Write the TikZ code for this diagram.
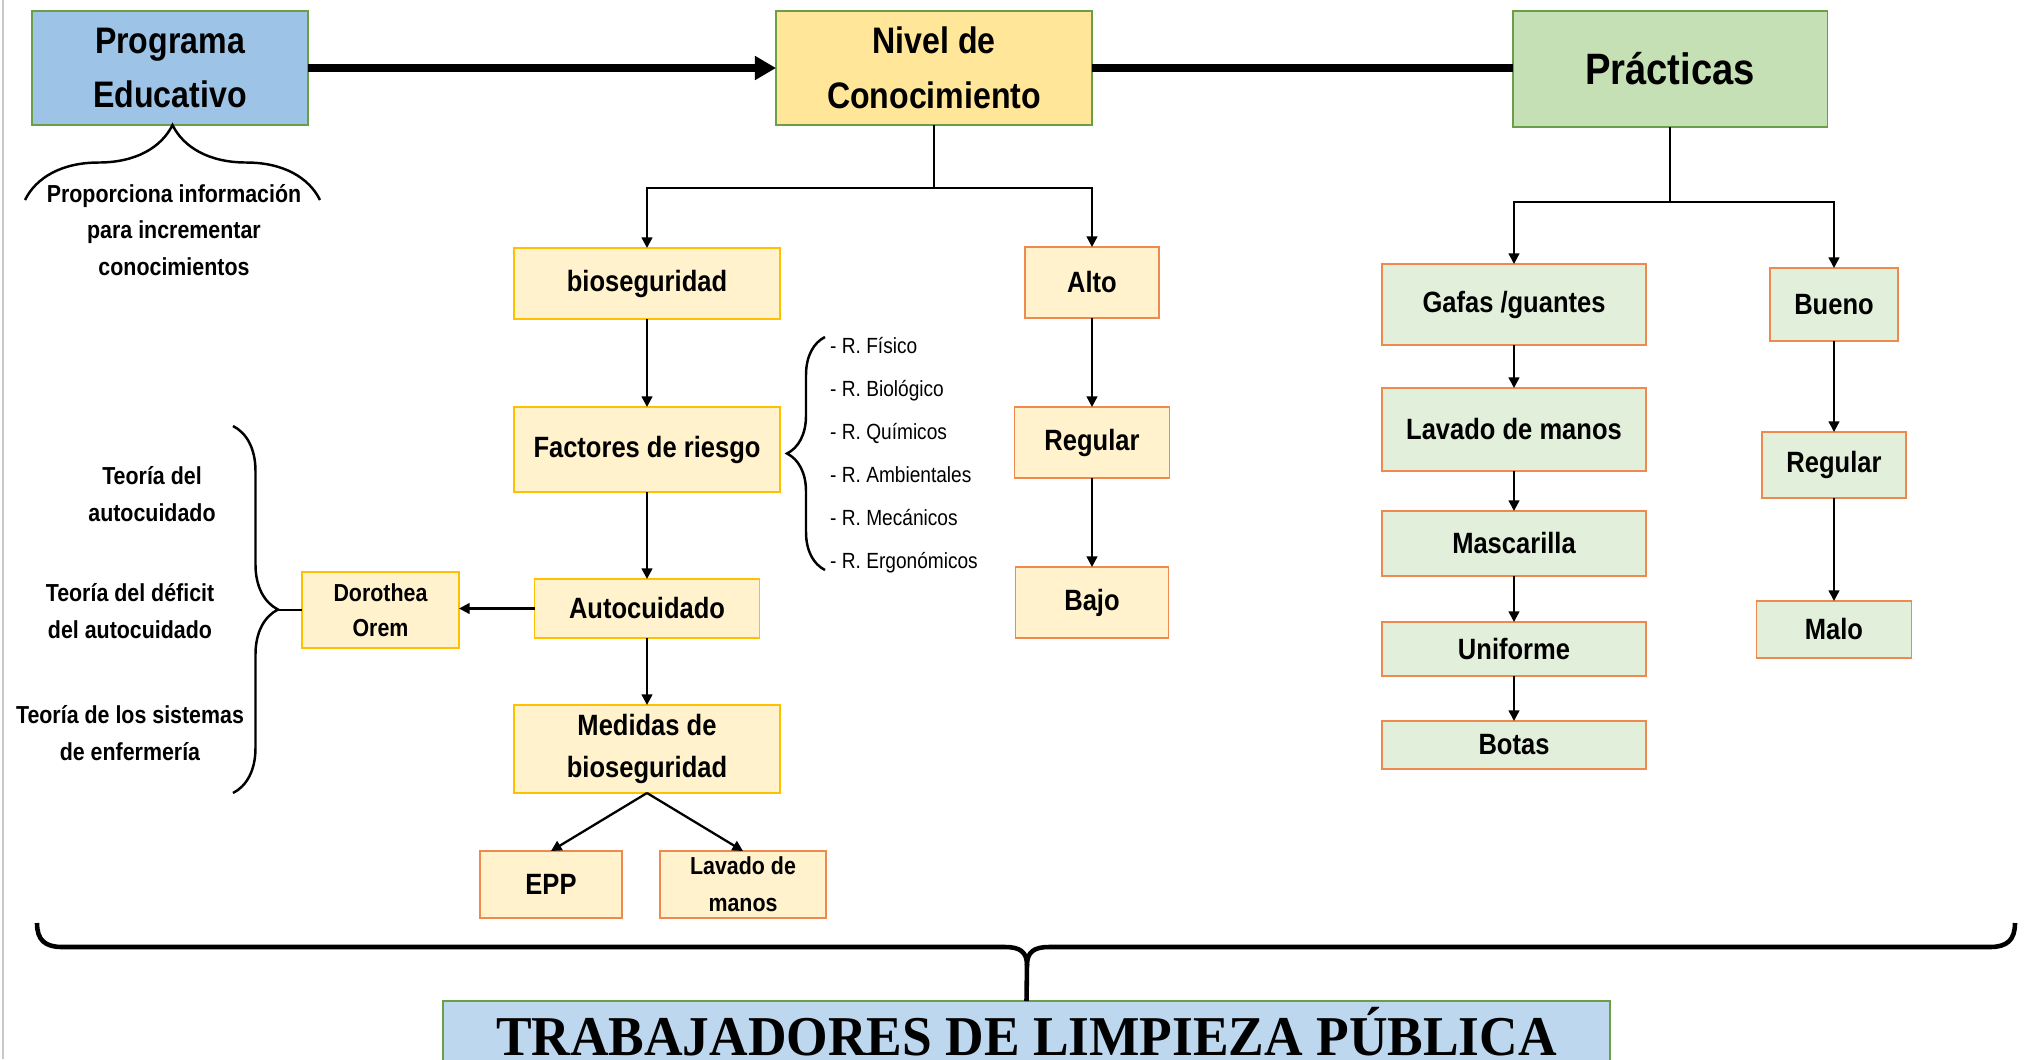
\documentclass[tikz,border=0pt]{standalone}
\usepackage{fontspec}
\setmainfont{Liberation Sans}[FakeStretch=0.87]
\newfontfamily\titlefont{Liberation Serif}[FakeStretch=0.95]
\usetikzlibrary{positioning, arrows.meta, calc, decorations.pathreplacing}
\definecolor{progblue}{HTML}{9DC3E6}
\definecolor{nivelgold}{HTML}{FFE699}
\definecolor{practgreen}{HTML}{C5E0B4}
\definecolor{trabblue}{HTML}{BDD7EE}
\definecolor{boxgreen}{HTML}{6A9F45}
\definecolor{lightyellow}{HTML}{FFF2CC}
\definecolor{lightgreen}{HTML}{E2EFDA}
\definecolor{gold}{HTML}{FFC000}
\definecolor{boxorange}{HTML}{EE8A4E}
\definecolor{framegray}{HTML}{C8C8C8}

\begin{document}
\begin{tikzpicture}[
  x=0.02cm, y=-0.02cm,
  box/.style={draw, line width=1.1pt, inner sep=0pt, outer sep=0pt, align=center},
  topbox/.style={box, draw=boxgreen, font=\bfseries\fontsize{21}{31}\selectfont},
  ybox/.style={box, draw=gold, fill=lightyellow, font=\bfseries\fontsize{16.7}{24}\selectfont},
  obox/.style={box, draw=boxorange, fill=lightyellow, font=\bfseries\fontsize{16.7}{24}\selectfont},
  gbox/.style={box, draw=boxorange, fill=lightgreen, font=\bfseries\fontsize{16.7}{24}\selectfont},
  small/.style={font=\bfseries\fontsize{14}{21}\selectfont, align=center},
  arrow/.style={-{Triangle[length=6pt,width=6pt]}, line width=1.3pt},
  bigline/.style={line width=4pt},
  bigarrow/.style={bigline, -{Triangle[length=12pt,width=13pt]}},
  curly/.style={decorate, decoration={brace, amplitude=#1}, line width=1.4pt},
]
  \useasboundingbox (0,0) rectangle (2026,1059);
  \draw[framegray, line width=1pt] (3,0) -- (3,1059);

  % Top row
  \node[topbox, fill=progblue, minimum width=5.52cm, minimum height=2.28cm] (prog) at (170,68) {Programa\\Educativo};
  \node[topbox, fill=nivelgold, minimum width=6.32cm, minimum height=2.28cm] (nivel) at (934,68) {Nivel de\\Conocimiento};
  \node[topbox, fill=practgreen, minimum width=6.30cm, minimum height=2.32cm,
        font=\bfseries\fontsize{25}{31}\selectfont] (pract) at (1670,69) {Prácticas};
  \draw[bigarrow] (prog) -- (nivel);
  \draw[bigline] (nivel.east) -- (nivel.east -| pract.west);

  % Programa note
  \draw[curly=1.5cm] (25,200) -- (320,200);
  \node[small] (nota) at (174,230) {Proporciona información\\para incrementar\\conocimientos};

  % Conocimiento branch
  \node[ybox, minimum width=5.32cm, minimum height=1.42cm] (bio) at (647,283.5) {bioseguridad};
  \node[ybox, minimum width=5.32cm, minimum height=1.70cm] (fact) at (647,449.5) {Factores de riesgo};
  \node[ybox, minimum width=4.50cm, minimum height=1.18cm] (auto) at (647,608.5) {Autocuidado};
  \node[ybox, minimum width=5.32cm, minimum height=1.76cm] (med) at (647,749) {Medidas de\\bioseguridad};
  \node[obox, minimum width=2.84cm, minimum height=1.34cm] (epp) at (551,884.5) {EPP};
  \node[obox, minimum width=3.32cm, minimum height=1.34cm,
        font=\bfseries\fontsize{14}{21}\selectfont] (lavA) at (743,884.5) {Lavado de\\manos};
  \node[ybox, minimum width=3.14cm, minimum height=1.52cm,
        font=\bfseries\fontsize{14}{20}\selectfont] (dor) at (380.5,610) {Dorothea\\Orem};

  % Niveles
  \node[obox, minimum width=2.68cm, minimum height=1.42cm] (alto) at (1092,282.5) {Alto};
  \node[obox, minimum width=3.10cm, minimum height=1.42cm] (regA) at (1092,442.5) {Regular};
  \node[obox, minimum width=3.06cm, minimum height=1.42cm] (bajo) at (1092,602.5) {Bajo};

  \draw[arrow] (nivel.south) -- ++(0,63) -| (bio.north);
  \draw[arrow] (nivel.south) -- ++(0,63) -| (alto.north);
  \draw[arrow] (bio) -- (fact);
  \draw[arrow] (fact) -- (auto);
  \draw[arrow] (auto) -- (med);
  \draw[arrow] (auto.west) -- (auto.west -| dor.east);
  \draw[arrow] (med.south) -- (epp.north);
  \draw[arrow] (med.south) -- (lavA.north);
  \draw[arrow] (alto) -- (regA);
  \draw[arrow] (regA) -- (bajo);

  % Riesgos
  \draw[curly=0.76cm] (825,570) -- (825,337);
  \node[anchor=west, align=left, font=\fontsize{12.5}{24.5}\selectfont] (riesgos) at (824,455)
    {- R. Físico\\- R. Biológico\\- R. Químicos\\- R. Ambientales\\- R. Mecánicos\\- R. Ergonómicos};

  % Teorias de Orem
  \draw[curly=0.9cm] (233,426) -- (233,793);
  \coordinate (tip) at (278,610);
  \draw[line width=1.4pt] (tip) -- (dor.west);
  \node[small] (teo1) at (152,494.5) {Teoría del\\autocuidado};
  \node[small] (teo2) at (130,611.5) {Teoría del déficit\\del autocuidado};
  \node[small] (teo3) at (130,733.5) {Teoría de los sistemas\\de enfermería};

  % Practicas branch
  \node[gbox, minimum width=5.28cm, minimum height=1.62cm] (gafas) at (1514,304.5) {Gafas /guantes};
  \node[gbox, minimum width=5.28cm, minimum height=1.66cm] (lavB) at (1514,429.5) {Lavado de manos};
  \node[gbox, minimum width=5.28cm, minimum height=1.30cm] (masc) at (1514,543.5) {Mascarilla};
  \node[gbox, minimum width=5.28cm, minimum height=1.08cm] (unif) at (1514,649) {Uniforme};
  \node[gbox, minimum width=5.28cm, minimum height=0.96cm] (botas) at (1514,745) {Botas};
  \node[gbox, minimum width=2.56cm, minimum height=1.46cm] (bueno) at (1834,304.5) {Bueno};
  \node[gbox, minimum width=2.88cm, minimum height=1.32cm] (regB) at (1834,465) {Regular};
  \node[gbox, minimum width=3.10cm, minimum height=1.14cm] (malo) at (1834,629.5) {Malo};

  \draw[arrow] (pract.south) -- ++(0,75) -| (gafas.north);
  \draw[arrow] (pract.south) -- ++(0,75) -| (bueno.north);
  \draw[arrow] (gafas) -- (lavB);
  \draw[arrow] (lavB) -- (masc);
  \draw[arrow] (masc) -- (unif);
  \draw[arrow] (unif) -- (botas);
  \draw[arrow] (bueno) -- (regB);
  \draw[arrow] (regB) -- (malo);

  % Trabajadores
  \node[box, draw=boxgreen, fill=trabblue, minimum width=23.34cm, minimum height=1.42cm,
        text height=0.74cm, text depth=0pt, font=\titlefont\bfseries\fontsize{32}{36}\selectfont]
    (trab) at (1026.5,1036.5) {TRABAJADORES DE LIMPIEZA PÚBLICA};
  \draw[line width=2.6pt] (37,923) .. controls (37,940) and (45,947) .. (62,947) -- (1005,947)
    .. controls (1020,947) and (1027,952) .. (1027,965)
    .. controls (1027,952) and (1034,947) .. (1049,947) -- (1990,947)
    .. controls (2007,947) and (2015,940) .. (2015,923);
  \draw[line width=2.6pt] (1027,964) -- (trab.north);
\end{tikzpicture}
\end{document}
